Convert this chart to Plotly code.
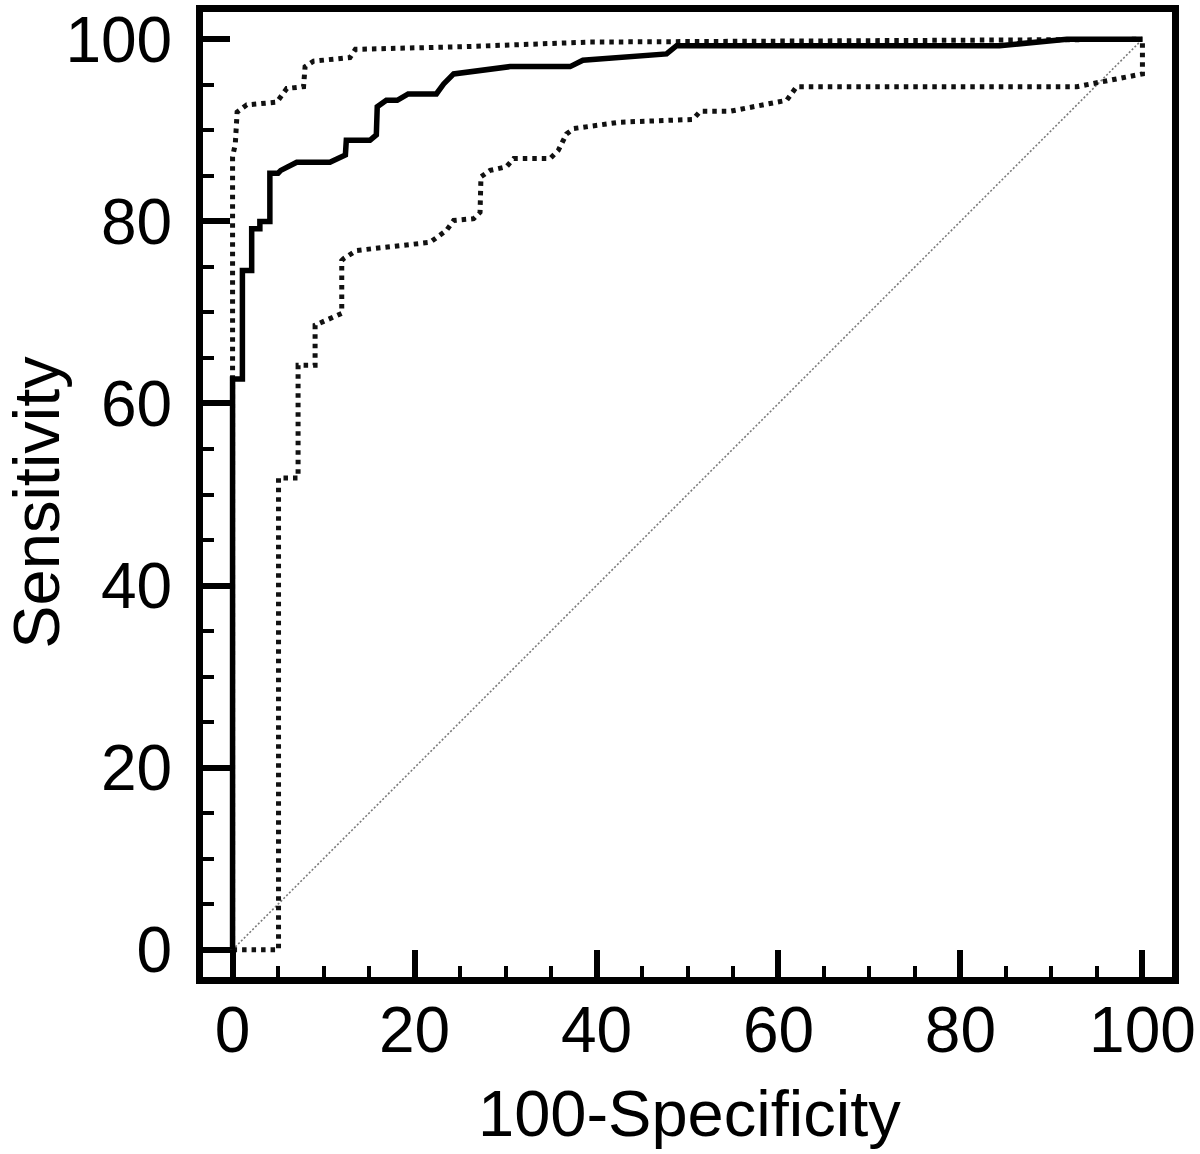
import plotly.graph_objects as go

# ROC curve (100-Specificity, Sensitivity)
roc_x = [0, 0, 1.08, 1.08, 2.1, 2.1, 3.0, 3.0, 4.1, 4.1, 5.0, 5.3, 7.05, 10.7, 12.4, 12.5, 15.1, 15.8, 15.9,
         16.9, 18.1, 19.3, 22.4, 23.2, 24.3, 30.5, 37.1, 38.5, 47.7, 48.8, 84.3, 88.0, 91.7, 100]
roc_y = [0, 62.7, 62.7, 74.6, 74.6, 79.2, 79.2, 80.0, 80.0, 85.3, 85.3, 85.6, 86.5, 86.5, 87.3, 88.9, 88.9, 89.5, 92.6,
         93.3, 93.3, 94.0, 94.0, 95.1, 96.2, 97.0, 97.0, 97.7, 98.4, 99.3, 99.3, 99.7, 100, 100]

# Upper confidence bound
up_x = [0, 0, 0.3, 0.5, 1.56, 4.86, 5.96, 7.8, 7.97, 8.9, 12.9, 13.5, 25.7, 39.3, 60.0, 100]
up_y = [0, 87.1, 88.5, 92.0, 92.8, 93.1, 94.6, 94.8, 97.0, 97.6, 98.0, 98.9, 99.2, 99.7, 99.8, 100]

# Lower confidence bound
lo_x = [0, 5.05, 5.05, 7.2, 7.2, 9.07, 9.07, 10.7, 12.0, 12.0, 12.2, 13.6, 21.7, 23.5, 24.3, 26.5, 27.2, 27.3,
        28.3, 30.1, 30.9, 34.9, 35.8, 36.7, 37.5, 42.6, 50.6, 51.4, 54.7, 60.9, 62.0, 92.8, 96.1, 100, 100]
lo_y = [0, 0, 51.8, 51.8, 64.2, 64.2, 68.6, 69.3, 69.9, 75.7, 75.9, 76.8, 77.7, 79.0, 80.1, 80.3, 81.0, 84.9,
        85.6, 86.0, 86.9, 86.9, 87.8, 89.6, 90.2, 90.9, 91.2, 92.1, 92.1, 93.3, 94.8, 94.8, 95.5, 96.2, 100]

# Reference diagonal
diag_x = [0, 100]
diag_y = [0, 100]

x_title = "100-Specificity"
y_title = "Sensitivity"

FONT = "Liberation Sans, Arial, sans-serif"

fig = go.Figure()
fig.add_trace(go.Scatter(x=diag_x, y=diag_y, mode="lines",
                         line=dict(color="#7a7a7a", width=1.6, dash="2px,2px"),
                         showlegend=False, hoverinfo="skip"))
fig.add_trace(go.Scatter(x=lo_x, y=lo_y, mode="lines",
                         line=dict(color="#111111", width=5, dash="4.5px,5px"),
                         showlegend=False))
fig.add_trace(go.Scatter(x=up_x, y=up_y, mode="lines",
                         line=dict(color="#111111", width=5, dash="4.5px,5px"),
                         showlegend=False))
fig.add_trace(go.Scatter(x=roc_x, y=roc_y, mode="lines",
                         line=dict(color="black", width=5.5),
                         showlegend=False))

axis_common = dict(
    showline=True, linecolor="black", linewidth=7, mirror=True,
    showgrid=False, zeroline=False, automargin=False,
    ticks="inside", ticklen=27, tickwidth=6, tickcolor="black",
    tickfont=dict(family=FONT, size=64, color="black"),
    tick0=0, dtick=20, ticklabeloverflow="allow",
    minor=dict(ticks="inside", ticklen=11, tickwidth=4, tickcolor="black", dtick=5, tick0=0, showgrid=False),
)

fig.update_xaxes(range=[-3.25, 103.25], **axis_common, ticklabelstandoff=-9)
fig.update_yaxes(range=[-3.0, 103.0], **axis_common, ticklabelstandoff=11)

W, H = 1200, 1154
L, R, T = 203, 28, 12
B = H - 977.5
pw, ph = W - L - R, H - T - B

def page_to_paper(px, py):
    return (px - L) / pw, (H - B - py) / ph

tx, ty = page_to_paper(689.5, 1076)
yx, yy = page_to_paper(37, 503)

fig.add_annotation(text=x_title, xref="paper", yref="paper", x=tx, y=ty,
                   xanchor="center", yanchor="top", showarrow=False,
                   font=dict(family=FONT, size=65, color="black"))
fig.add_annotation(text=y_title, xref="paper", yref="paper", x=yx, y=yy,
                   xanchor="center", yanchor="middle", textangle=-90, showarrow=False,
                   font=dict(family=FONT, size=65, color="black"))

fig.update_layout(
    width=W, height=H,
    margin=dict(l=L, r=R, t=T, b=B),
    plot_bgcolor="white", paper_bgcolor="white",
)

# remove the browser's default 8px page margin so the figure fills the window exactly
fig.write_html("out.html", config={"displayModeBar": False},
               post_script="document.body.style.margin='0';")
